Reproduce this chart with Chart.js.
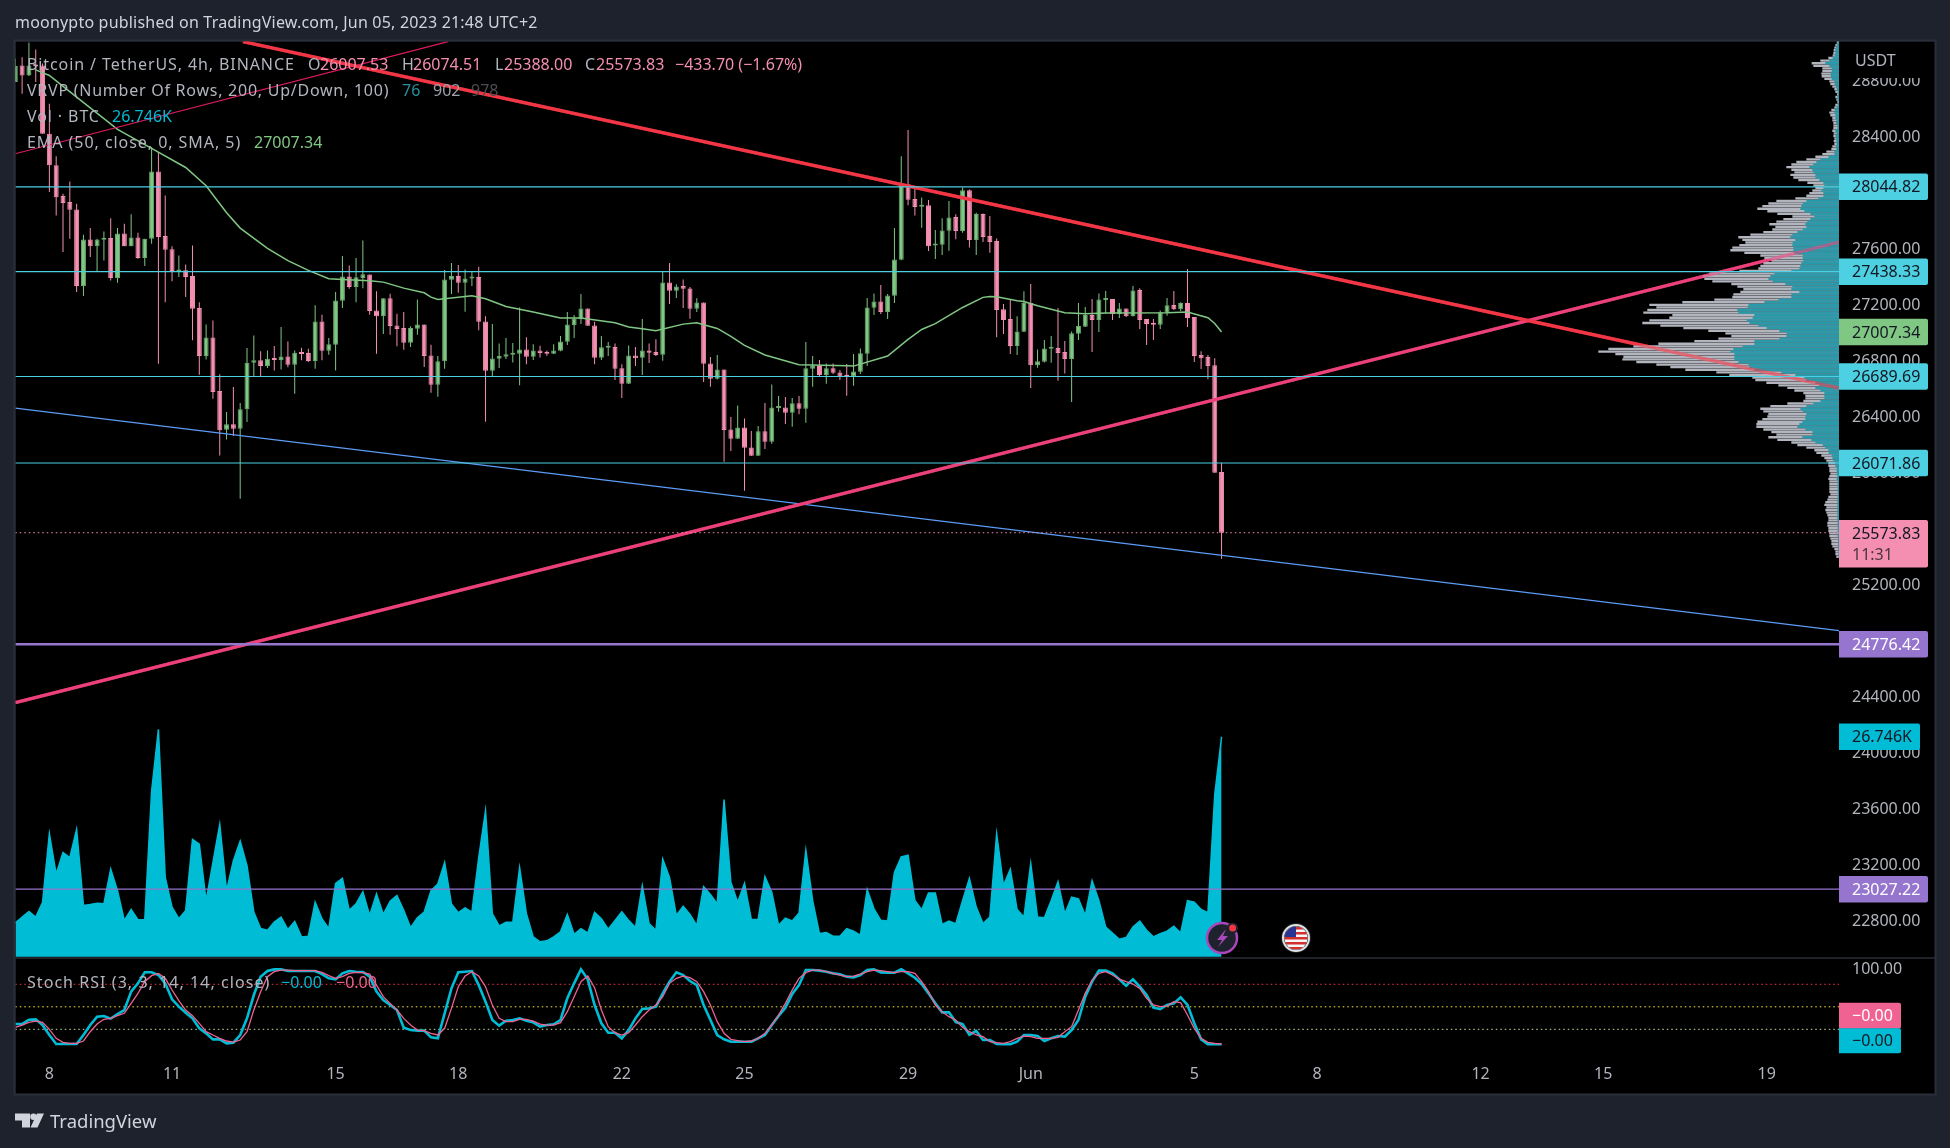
<!DOCTYPE html>
<html>
<head>
<meta charset="utf-8">
<title>BTCUSDT 4h</title>
<script src="https://cdn.jsdelivr.net/npm/chart.js@4/dist/chart.umd.min.js"></script>
<style>
  html, body { margin: 0; padding: 0; background: #1e222d; }
  #wrap { width: 1950px; height: 1148px; }
</style>
</head>
<body>
<div id="wrap"><canvas id="chart" width="1950" height="1148"></canvas></div>
<script>
const firstBar = -5;
const opens = [
  28793, 28912, 28840, 28917, 28912, 28424, 28198, 27979, 27936, 27883,
  27336, 27669, 27621, 27667, 27679, 27393, 27712, 27621, 27683, 27536,
  27674, 28155, 27693, 27598, 27440, 27448, 27407, 27179, 26836, 26969,
  26586, 26310, 26348, 26317, 26455, 26788, 26805, 26764, 26821, 26807,
  26833, 26774, 26864, 26857, 26800, 27083, 26874, 26917, 27231, 27405,
  27329, 27393, 27419, 27162, 27121, 27248, 27055, 27036, 26931, 27031,
  27062, 26840, 26631, 26798, 27381, 27407, 27359, 27390, 27400, 27083,
  26731, 26817, 26831, 26845, 26852, 26883, 26831, 26876, 26864, 26852,
  26874, 26938, 27057, 27098, 27176, 27055, 26824, 26895, 26900, 26748,
  26638, 26840, 26824, 26876, 26864, 26845, 27362, 27302, 27336, 27319,
  27174, 27219, 26783, 26674, 26740, 26312, 26245, 26326, 26183, 26124,
  26298, 26224, 26464, 26469, 26431, 26498, 26459, 26745, 26764, 26700,
  26748, 26719, 26698, 26690, 26724, 26852, 27181, 27226, 27150, 27267,
  27524, 28064, 27957, 27902, 27914, 27626, 27631, 27731, 27829, 27729,
  28021, 27664, 27850, 27693, 27657, 27171, 27100, 26907, 27010, 27214,
  26771, 26795, 26888, 26893, 26864, 26814, 26995, 27045, 27129, 27093,
  27236, 27243, 27136, 27176, 27121, 27307, 27100, 27071, 27059, 27145,
  27200, 27171, 27214, 27114, 26843, 26829, 26771, 26007.53
];
const closes = [
  28907, 28840, 28912, 28905, 28424, 28198, 27971, 27929, 27881, 27336,
  27669, 27621, 27669, 27674, 27393, 27712, 27621, 27683, 27536, 27674,
  28155, 27686, 27595, 27443, 27448, 27400, 27174, 26836, 26969, 26579,
  26305, 26348, 26317, 26455, 26788, 26805, 26764, 26817, 26807, 26833,
  26774, 26859, 26850, 26800, 27083, 26874, 26921, 27233, 27405, 27329,
  27398, 27421, 27157, 27121, 27248, 27050, 27029, 26931, 27036, 27062,
  26836, 26631, 26798, 27383, 27407, 27359, 27390, 27400, 27081, 26731,
  26819, 26836, 26848, 26857, 26883, 26831, 26876, 26857, 26852, 26876,
  26940, 27062, 27102, 27176, 27052, 26824, 26898, 26900, 26745, 26638,
  26840, 26821, 26876, 26859, 26843, 27362, 27302, 27333, 27317, 27174,
  27219, 26781, 26674, 26740, 26307, 26245, 26326, 26181, 26124, 26298,
  26224, 26469, 26471, 26431, 26498, 26459, 26748, 26764, 26700, 26748,
  26717, 26688, 26688, 26726, 26855, 27183, 27226, 27150, 27269, 27526,
  28064, 27952, 27900, 27912, 27621, 27636, 27733, 27826, 27729, 28021,
  27664, 27850, 27686, 27650, 27164, 27093, 26907, 27012, 27214, 26771,
  26798, 26890, 26893, 26857, 26814, 26998, 27050, 27129, 27093, 27240,
  27243, 27136, 27176, 27121, 27305, 27093, 27064, 27059, 27148, 27198,
  27171, 27214, 27107, 26836, 26821, 26764, 26002, 25573.83
];
const highs = [
  28960, 28971, 29075, 29026, 28925, 28638, 28264, 27995, 28083, 27924,
  27702, 27750, 27674, 27726, 27821, 27750, 27781, 27848, 27717, 27674,
  28329, 28293, 27983, 27621, 27555, 27490, 27626, 27221, 27062, 27090,
  26705, 26436, 26614, 26500, 26893, 26983, 26871, 26876, 26907, 27043,
  26940, 26876, 26895, 26888, 27198, 27131, 26964, 27293, 27550, 27483,
  27536, 27662, 27419, 27298, 27248, 27281, 27138, 27150, 27048, 27240,
  27062, 26917, 26836, 27450, 27500, 27486, 27455, 27443, 27474, 27121,
  27064, 26926, 26964, 26929, 27183, 26971, 26921, 26909, 26876, 26921,
  26979, 27150, 27129, 27279, 27176, 27081, 26979, 26936, 26926, 26778,
  26912, 26900, 27100, 26926, 26955, 27438, 27500, 27348, 27383, 27329,
  27248, 27219, 26829, 26843, 26740, 26400, 26483, 26390, 26300, 26336,
  26500, 26633, 26550, 26543, 26536, 26550, 26936, 26836, 26807, 26783,
  26783, 26736, 26779, 26850, 26890, 27250, 27283, 27343, 27279, 27750,
  28264, 28450, 28050, 27969, 27950, 27736, 27821, 27943, 27848, 28040,
  28026, 27860, 27855, 27836, 27676, 27207, 27236, 27121, 27298, 27350,
  26883, 26950, 26979, 27179, 26943, 27012, 27214, 27186, 27243, 27283,
  27300, 27243, 27214, 27176, 27336, 27321, 27100, 27100, 27162, 27250,
  27300, 27221, 27457, 27114, 26871, 26843, 26821, 26074.51
];
const lows = [
  28793, 28710, 28836, 28793, 28424, 28007, 27840, 27579, 27674, 27293,
  27264, 27543, 27440, 27519, 27376, 27359, 27621, 27621, 27531, 27479,
  27638, 26781, 27221, 27371, 27400, 27257, 26948, 26702, 26812, 26531,
  26126, 26240, 26264, 25817, 26364, 26693, 26693, 26750, 26733, 26740,
  26755, 26567, 26805, 26793, 26745, 26805, 26845, 26733, 27179, 27317,
  27221, 27321, 27131, 26852, 26993, 26988, 26905, 26881, 26900, 26988,
  26757, 26574, 26545, 26745, 27279, 27288, 27152, 27336, 27021, 26367,
  26688, 26750, 26814, 26790, 26628, 26778, 26807, 26826, 26838, 26850,
  26871, 26914, 26964, 27064, 27052, 26778, 26807, 26836, 26664, 26536,
  26636, 26764, 26700, 26786, 26836, 26802, 27207, 27250, 27179, 27102,
  27150, 26650, 26617, 26669, 26081, 26157, 26243, 25874, 26121, 26121,
  26171, 26210, 26438, 26350, 26331, 26421, 26359, 26617, 26688, 26638,
  26707, 26664, 26552, 26624, 26707, 26764, 27129, 27136, 27100, 27214,
  27521, 27914, 27840, 27752, 27586, 27529, 27557, 27588, 27671, 27717,
  27612, 27557, 27650, 27574, 26971, 26993, 26850, 26843, 27007, 26607,
  26752, 26790, 26788, 26659, 26712, 26507, 26950, 27043, 26864, 27007,
  27140, 27093, 27107, 27114, 27119, 27029, 26914, 26950, 27029, 27124,
  27164, 27157, 27043, 26793, 26743, 26671, 26002, 25388
];

const emaBars = [
  -2, 0, 4, 10, 15, 20, 23, 26, 28, 32, 35, 38, 41, 43, 47, 49, 52, 55, 56,
  57, 62, 64, 67, 71, 75, 78, 83, 85, 87, 89, 93, 95, 98, 100, 102, 105, 110, 117,
  118, 123, 126, 128, 130, 134, 137, 138, 139, 142, 143, 145, 149, 152, 155, 164, 167, 170, 171, 172
];
const emaValues = [
  28880, 28840, 28686, 28455, 28320, 28183, 28052, 27860, 27750, 27605, 27517, 27448, 27388, 27383, 27374, 27364, 27321, 27288, 27257,
  27240, 27267, 27245, 27190, 27150, 27107, 27107, 27074, 27043, 27031, 27017, 27064, 27074, 27033, 26976, 26912, 26843, 26774, 26767,
  26764, 26836, 26955, 27026, 27067, 27183, 27255, 27262, 27260, 27231, 27226, 27195, 27145, 27138, 27143, 27145, 27150, 27110, 27069, 27007.34
];

// thousands of BTC per bar
const volumes = [
  4.10, 4.82, 5.51, 4.82, 6.63, 14.95, 10.05, 12.66, 12.06, 15.48,
  6.23, 6.35, 6.51, 6.43, 10.65, 8.04, 4.42, 5.75, 4.50, 4.50,
  20.10, 27.66, 9.65, 6.03, 4.62, 5.63, 14.27, 13.67, 6.83, 11.46,
  16.08, 8.04, 11.66, 14.07, 11.06, 5.43, 3.42, 3.22, 4.22, 4.82,
  3.30, 4.30, 2.41, 2.49, 6.63, 4.62, 3.42, 8.92, 9.53, 5.63,
  6.43, 7.92, 5.03, 7.64, 5.15, 6.75, 7.44, 5.63, 3.54, 4.74,
  5.43, 8.04, 8.84, 11.46, 6.43, 5.35, 5.95, 5.43, 12.06, 17.77,
  5.23, 3.74, 4.18, 4.18, 10.85, 5.23, 2.41, 1.81, 1.93, 2.41,
  3.02, 5.15, 2.73, 3.42, 2.89, 5.39, 4.62, 3.34, 4.42, 5.47,
  4.42, 3.54, 8.64, 4.02, 3.22, 11.86, 9.65, 5.03, 6.15, 5.15,
  3.82, 8.52, 7.56, 6.43, 19.10, 9.05, 6.63, 8.92, 4.54, 4.54,
  9.73, 7.84, 3.82, 4.70, 4.34, 5.31, 12.94, 6.83, 2.81, 2.93,
  2.49, 2.49, 3.42, 3.10, 2.61, 8.16, 5.83, 4.42, 4.34, 10.25,
  12.14, 12.34, 6.83, 5.71, 7.76, 7.76, 3.94, 4.34, 4.02, 6.83,
  9.53, 6.03, 4.02, 4.82, 14.95, 8.64, 10.65, 5.75, 4.82, 11.34,
  4.82, 4.74, 6.83, 9.13, 5.23, 7.24, 7.04, 5.03, 9.25, 6.83,
  3.62, 2.89, 2.13, 2.33, 3.62, 4.34, 3.22, 2.41, 2.81, 3.10,
  3.70, 2.89, 6.83, 6.63, 5.75, 5.35, 19.70, 26.746
];

const stochK = [
  27, 27, 32.8, 33.3, 25.7, 12.4, 0.5, 0.5, 0.5, 0.5,
  12.4, 25.7, 36.8, 37.7, 34.2, 40.4, 45.7, 70.2, 81.3, 96,
  96, 92.4, 81.3, 59.9, 50.2, 42.2, 34.6, 21.3, 14.6, 6.6,
  6.6, 1.3, 2.2, 12.4, 34.6, 65.7, 90.2, 97.7, 99.9, 100,
  97.7, 97.7, 97.7, 97.7, 97.7, 93.7, 88, 86.6, 94.6, 97.7,
  96.8, 96.4, 90.2, 70.2, 59, 52.4, 45.7, 22.2, 19, 18.2,
  18.2, 9.3, 8, 41.3, 74.6, 96, 96.8, 97.7, 79, 56.8,
  32.4, 24.9, 31.5, 32.4, 34.6, 31.5, 29.3, 23.5, 25.7, 26.6,
  32.4, 61.3, 81.3, 100, 86.6, 52.4, 28, 15.5, 15.5, 8,
  19, 34.6, 47, 47.9, 50.2, 67.9, 83.5, 96, 92.4, 84.4,
  79, 52.4, 32.4, 12.4, 6.6, 3.5, 3.5, 3.5, 3.5, 8,
  12.4, 25.7, 37.7, 48.8, 67, 79, 99, 99, 98.2, 96.8,
  94.6, 93.3, 90.2, 89.3, 92.4, 99, 100, 95.9, 95.5, 95.5,
  100, 94.6, 88.8, 80.4, 67.9, 54.6, 42.6, 42.6, 29.7, 27,
  12.8, 17.7, 5.7, 5.7, 0.5, 0, 0, 3.5, 12.4, 12.4,
  11, 4.4, 8, 11, 10.2, 19, 32.4, 63.5, 83.5, 98.2,
  98.2, 94.6, 86.6, 78.2, 86.6, 76.8, 65.7, 48.8, 47, 52.4,
  54.6, 62.6, 52.4, 28, 6.6, 0, 0, 0
];
const stochD = [
  22.6, 25.7, 29.3, 31, 29.3, 20, 8, 2.6, 1.3, 1.3,
  4.4, 16.8, 27, 33.3, 34.6, 38.2, 41.3, 54.6, 67.9, 83.5,
  91.5, 94.6, 88, 72.4, 58.2, 45.7, 38.2, 28, 16.8, 12.4,
  8, 4.4, 3, 5.7, 16.8, 45.7, 70.2, 90.2, 96.8, 99,
  99, 98.2, 98.2, 98.2, 98.2, 96, 91.5, 88, 90.2, 94.6,
  96, 95.5, 93.7, 79, 63.5, 54.6, 45.7, 34.6, 25.7, 19,
  18.2, 14.6, 12.4, 21.3, 47.9, 76.8, 91, 96.8, 91, 76.8,
  52.4, 34.6, 30.2, 30.2, 33.3, 33.3, 31, 27, 25.7, 25.7,
  28.8, 43.5, 63.5, 83.5, 91, 75.5, 45.7, 23.5, 15.5, 12.4,
  15.5, 25.7, 36.8, 45.7, 52.4, 63.5, 81.3, 88, 91, 88.8,
  83.5, 70.2, 52.4, 30.2, 14.6, 6.6, 4.9, 3.5, 4.4, 8,
  14.6, 25.7, 39, 54.6, 72.4, 88, 95.5, 99, 99, 96.8,
  94.6, 92.4, 90.2, 91, 93.7, 96.8, 99, 98.2, 96.8, 95.5,
  96.8, 96.8, 94.6, 83.5, 70.2, 52.4, 43.5, 36.8, 32.4, 22.6,
  16.8, 12.4, 10.2, 3.5, 2.2, 1.3, 3.5, 8, 11, 10.2,
  8, 8, 8, 9.3, 16.8, 23.5, 45.7, 67.9, 85.7, 94.6,
  96.8, 92.4, 87, 83.5, 80.4, 74.6, 61.3, 52.4, 50.2, 51,
  56.8, 55.5, 39, 21.3, 8, 2.6, 1.3, 0.4
];

// visible range volume profile, top row first
const vpTopPrice = 29076;
const vpLowPrice = 25402;
const vpTotal = [
  6, 10, 13, 15, 16, 18, 31, 55, 81, 76, 49, 49, 52, 51, 43, 28, 25, 19, 13, 10,
  5, 10, 7, 4, 10, 13, 22, 28, 25, 19, 19, 16, 16, 16, 19, 15, 16, 13, 15, 13,
  19, 22, 37, 49, 70, 97, 127, 142, 157, 142, 133, 145, 136, 121, 94, 76, 70, 79, 88, 97,
  130, 187, 211, 229, 244, 214, 184, 139, 166, 187, 208, 190, 199, 226, 265, 301, 289, 280, 298, 319,
  325, 283, 235, 223, 202, 226, 235, 241, 298, 388, 408, 403, 379, 322, 304, 286, 295, 316, 319, 373,
  469, 568, 547, 574, 586, 499, 508, 568, 589, 535, 466, 391, 340, 322, 361, 433, 541, 616, 691, 721,
  670, 646, 649, 607, 547, 505, 460, 367, 328, 259, 250, 217, 181, 154, 133, 106, 100, 100, 106, 154,
  205, 235, 226, 211, 214, 229, 244, 247, 247, 226, 202, 187, 211, 184, 142, 124, 97, 73, 67, 52,
  43, 37, 31, 31, 28, 28, 25, 28, 31, 28, 28, 28, 28, 28, 25, 31, 34, 40, 43, 37,
  40, 37, 34, 31, 31, 34, 34, 31, 31, 28, 28, 25, 22, 22, 19, 13, 10, 10, 7
];
const vpUp = [
  3, 6, 8, 10, 10, 12, 18, 28, 40, 28, 21, 21, 24, 24, 21, 13, 12, 8, 6, 3,
  2, 4, 3, 1, 3, 6, 12, 13, 10, 10, 7, 8, 4, 4, 10, 7, 9, 8, 7, 6,
  8, 7, 13, 13, 31, 55, 67, 76, 88, 79, 76, 70, 70, 58, 46, 43, 46, 52, 46, 46,
  61, 97, 108, 112, 115, 103, 85, 73, 85, 94, 100, 97, 108, 124, 139, 145, 130, 138, 139, 136,
  136, 133, 108, 108, 106, 112, 115, 118, 142, 193, 205, 211, 198, 160, 139, 142, 118, 142, 142, 181,
  223, 271, 273, 304, 301, 253, 258, 276, 268, 241, 216, 178, 156, 157, 178, 253, 253, 288, 316, 325,
  313, 313, 313, 301, 271, 268, 253, 172, 130, 103, 98, 70, 58, 70, 55, 43, 43, 43, 55, 76,
  97, 115, 108, 97, 100, 100, 109, 118, 124, 100, 79, 79, 109, 82, 70, 48, 40, 31, 30, 21,
  19, 16, 11, 10, 6, 6, 6, 4, 6, 3, 3, 3, 3, 3, 2, 3, 4, 4, 4, 4,
  4, 4, 4, 4, 4, 3, 3, 3, 3, 3, 3, 2, 2, 2, 2, 2, 1, 1, 1
];

const priceTicks = [28800, 28400, 28000, 27600, 27200, 26800, 26400, 26000, 25600, 25200, 24800, 24400, 24000, 23600, 23200, 22800];
const dateTickBars = [0, 18, 42, 60, 84, 102, 126, 144, 168, 186, 210, 228, 252];
const dateTickLabels = ['8', '11', '15', '18', '22', '25', '29', 'Jun', '5', '8', '12', '15', '19'];

const cyanLevels = [28044.82, 27438.33, 26689.69, 26071.86];
const purpleLevels = [24776.42, 23027.22];
const lastPrice = 25573.83;
const lastEma = 27007.34;
const lastVolume = 26.746;

const redTrendBars = [28.4, 262.6];
const redTrendPrices = [29082, 26607];
const pinkTrendBars = [-5, 262.6];
const pinkTrendPrices = [24360, 27650];
const thinTrendBars = [-5, 58.5];
const thinTrendPrices = [28281, 29082];
const blueTrendBars = [-5, 262.6];
const blueTrendPrices = [26464, 24874];

const colors = {
  frame: '#1e222d',
  border: '#2a2e39',
  text: '#b2b5be',
  header: '#d1d4dc',
  up: '#81c784',
  upEdge: '#6aa96e',
  down: '#f48fb1',
  cyan: '#4dd0e1',
  purple: '#9575cd',
  volume: '#00bcd4',
  stochD: '#f06292',
  red: '#f23645',
  redThrough: 'rgba(242, 54, 69, 0.55)',
  pink: '#ec407a',
  pinkThrough: 'rgba(236, 64, 122, 0.55)',
  blue: '#5b9cf6',
  vpUp: '#2a9aab',
  vpDown: '#b2b5be'
};
const fontName = '"Noto Sans", sans-serif';

const barIndex = closes.map((_, k) => firstBar + k);
const xy = (xs, ys) => xs.map((x, k) => ({ x, y: ys[k] }));
const hLine = (value) => [{ x: firstBar, y: value }, { x: 262.6, y: value }];
const candleColor = (up, down) => closes.map((c, k) => (c >= opens[k] ? up : down));
const vpStep = (vpTopPrice - vpLowPrice) / (vpTotal.length - 1);
const vpRows = vpTotal.map((_, k) => vpTopPrice - k * vpStep);

function lineSet(data, color, width, order, extra = {}) {
  return {
    type: 'line',
    data,
    borderColor: color,
    borderWidth: width,
    pointRadius: 0,
    tension: 0,
    fill: false,
    order,
    xAxisID: 'x',
    yAxisID: 'y',
    ...extra
  };
}

function runs(ctx, y, parts) {
  parts.forEach(([x, text, color, spacing]) => {
    ctx.letterSpacing = (spacing || 0) + 'px';
    ctx.fillStyle = color;
    ctx.fillText(text, x, y);
  });
  ctx.letterSpacing = '0px';
}

function badge(ctx, y, h, right, bg, fg, text) {
  ctx.fillStyle = bg;
  ctx.beginPath();
  ctx.roundRect(1839, y - h / 2, right - 1839, h, [0, 2, 2, 0]);
  ctx.fill();
  ctx.fillStyle = fg;
  ctx.fillText(text, 1852, y + 1);
}

function drawLogo(ctx) {
  ctx.fillStyle = '#d1d4dc';
  ctx.beginPath();
  ctx.moveTo(15, 1113.5);
  ctx.lineTo(30, 1113.5);
  ctx.lineTo(30, 1127.5);
  ctx.lineTo(22, 1127.5);
  ctx.lineTo(22, 1120.5);
  ctx.lineTo(15, 1120.5);
  ctx.closePath();
  ctx.moveTo(44, 1113.5);
  ctx.lineTo(37.5, 1127.5);
  ctx.lineTo(30.5, 1127.5);
  ctx.lineTo(37, 1113.5);
  ctx.closePath();
  ctx.fill();
  ctx.beginPath();
  ctx.arc(33.5, 1116.8, 3.3, 0, Math.PI * 2);
  ctx.fill();
  ctx.font = '18.5px ' + fontName;
  ctx.textAlign = 'left';
  ctx.textBaseline = 'middle';
  ctx.fillText('TradingView', 50, 1122.5);
}

function drawEvents(ctx) {
  // earnings style bolt marker
  ctx.beginPath();
  ctx.arc(1222, 938, 15, 0, Math.PI * 2);
  ctx.fillStyle = '#1e222d';
  ctx.fill();
  ctx.lineWidth = 2.5;
  ctx.strokeStyle = '#ab47bc';
  ctx.stroke();
  ctx.fillStyle = '#ab47bc';
  ctx.beginPath();
  ctx.moveTo(1226, 929);
  ctx.lineTo(1217, 940);
  ctx.lineTo(1222, 940);
  ctx.lineTo(1218, 947);
  ctx.lineTo(1228, 936);
  ctx.lineTo(1223, 936);
  ctx.closePath();
  ctx.fill();
  ctx.fillStyle = '#1e222d';
  ctx.beginPath();
  ctx.arc(1232.6, 928, 5.5, 0, Math.PI * 2);
  ctx.fill();
  ctx.fillStyle = '#f23645';
  ctx.beginPath();
  ctx.arc(1232.6, 928, 3.5, 0, Math.PI * 2);
  ctx.fill();

  // US economic event flag
  ctx.save();
  ctx.beginPath();
  ctx.arc(1296, 938, 15, 0, Math.PI * 2);
  ctx.fillStyle = '#1e222d';
  ctx.fill();
  ctx.beginPath();
  ctx.arc(1296, 938, 11.5, 0, Math.PI * 2);
  ctx.clip();
  ctx.fillStyle = '#f5f5f5';
  ctx.fillRect(1284, 926, 24, 24);
  ctx.fillStyle = '#d32f2f';
  for (let s = 0; s < 5; s++) {
    ctx.fillRect(1284, 927 + s * 5, 24, 2.5);
  }
  ctx.fillStyle = '#283593';
  ctx.fillRect(1284, 926, 12, 11);
  ctx.restore();
  ctx.beginPath();
  ctx.arc(1296, 938, 13, 0, Math.PI * 2);
  ctx.lineWidth = 2;
  ctx.strokeStyle = '#e0e0e0';
  ctx.stroke();
}

const paneFrame = {
  id: 'paneFrame',
  beforeDraw(chart) {
    const ctx = chart.ctx;
    ctx.save();
    ctx.fillStyle = colors.frame;
    ctx.fillRect(0, 0, 1950, 1148);
    ctx.fillStyle = '#000000';
    ctx.fillRect(15.5, 41.5, 1919.5, 1052.5);
    ctx.strokeStyle = colors.border;
    ctx.lineWidth = 2;
    ctx.strokeRect(14.5, 40.5, 1921, 1054);
    ctx.restore();
  },
  afterDraw(chart) {
    const ctx = chart.ctx;
    const y = chart.scales.y;
    const yVol = chart.scales.yVol;
    const yStoch = chart.scales.yStoch;
    ctx.save();
    ctx.textAlign = 'left';
    ctx.textBaseline = 'middle';
    ctx.font = '16px ' + fontName;

    // pane separator
    ctx.strokeStyle = colors.border;
    ctx.lineWidth = 1.5;
    ctx.beginPath();
    ctx.moveTo(15.5, 958);
    ctx.lineTo(1935, 958);
    ctx.stroke();

    // currency tag over the top tick
    ctx.fillStyle = '#000000';
    ctx.fillRect(1840, 42, 94, 36);
    ctx.fillStyle = colors.text;
    ctx.fillText('USDT', 1855, 61);
    ctx.fillText('100.00', 1852, yStoch.getPixelForValue(100));

    // header and footer
    runs(ctx, 23.5, [[15, 'moonypto published on TradingView.com, Jun 05, 2023 21:48 UTC+2', colors.header, 0.2]]);
    drawLogo(ctx);
    ctx.font = '16px ' + fontName;

    // legend rows
    const grey = colors.text;
    runs(ctx, 65, [
      [27, 'Bitcoin / TetherUS, 4h, BINANCE', grey, 0.9],
      [308, 'O', grey], [320, '26007.53', colors.down],
      [402, 'H', grey], [413, '26074.51', colors.down],
      [495, 'L', grey], [504, '25388.00', colors.down],
      [585, 'C', grey], [596, '25573.83', colors.down],
      [675, '−433.70 (−1.67%)', colors.down]
    ]);
    runs(ctx, 91, [
      [27, 'VRVP (Number Of Rows, 200, Up/Down, 100)', grey, 0.75],
      [402, '76', '#2a8f9e'], [433, '902', '#9ea1aa'], [471, '978', '#4a4c52']
    ]);
    runs(ctx, 117, [[27, 'Vol · BTC', grey, 0.9], [112, '26.746K', colors.volume]]);
    runs(ctx, 143, [[27, 'EMA (50, close, 0, SMA, 5)', grey, 0.95], [254, '27007.34', colors.up]]);
    runs(ctx, 983, [
      [27, 'Stoch RSI (3, 3, 14, 14, close)', grey, 1.05],
      [281, '−0.00', colors.volume], [336, '−0.00', colors.stochD]
    ]);

    drawEvents(ctx);

    // price scale tags
    cyanLevels.forEach((v) => badge(ctx, y.getPixelForValue(v), 26.5, 1928, colors.cyan, '#131722', v.toFixed(2)));
    badge(ctx, y.getPixelForValue(lastEma), 26.5, 1928, colors.up, '#131722', lastEma.toFixed(2));
    purpleLevels.forEach((v) => badge(ctx, y.getPixelForValue(v), 26.5, 1928, colors.purple, '#ffffff', v.toFixed(2)));

    ctx.fillStyle = colors.down;
    ctx.beginPath();
    ctx.roundRect(1839, 520, 89, 47.5, [0, 2, 2, 0]);
    ctx.fill();
    ctx.fillStyle = '#131722';
    ctx.fillText(lastPrice.toFixed(2), 1852, 534);
    ctx.fillStyle = '#4a3640';
    ctx.fillText('11:31', 1852, 555.5);

    badge(ctx, yVol.getPixelForValue(lastVolume), 26.5, 1920, colors.volume, '#131722', lastVolume.toFixed(3) + 'K');
    badge(ctx, 1015.7, 26, 1901, colors.stochD, '#ffffff', '−0.00');
    badge(ctx, 1040.7, 25, 1901, colors.volume, '#131722', '−0.00');
    ctx.restore();
  }
};

new Chart(document.getElementById('chart'), {
  type: 'bar',
  data: {
    datasets: [
      lineSet(cyanLevels.flatMap((v) => [...hLine(v), { x: firstBar, y: null }]), colors.cyan, 1.2, 1, { spanGaps: false }),
      lineSet(hLine(purpleLevels[0]), colors.purple, 2.5, 1),
      lineSet(hLine(purpleLevels[1]), colors.purple, 1.2, 1),
      lineSet(hLine(lastPrice), colors.down, 1, 1, { borderDash: [1.5, 3] }),
      // the trend lines show faintly through the profile rows
      lineSet(xy(redTrendBars, redTrendPrices), colors.redThrough, 3.4, 1.5),
      lineSet(xy(pinkTrendBars, pinkTrendPrices), colors.pinkThrough, 3.4, 1.5),
      {
        type: 'bar',
        indexAxis: 'y',
        data: xy(vpUp, vpRows),
        backgroundColor: colors.vpUp,
        barThickness: 1.7,
        order: 2,
        xAxisID: 'xVP',
        yAxisID: 'y'
      },
      {
        type: 'bar',
        indexAxis: 'y',
        data: xy(vpTotal, vpRows),
        backgroundColor: colors.vpDown,
        barThickness: 1.7,
        order: 3,
        xAxisID: 'xVP',
        yAxisID: 'y'
      },
      lineSet(xy(redTrendBars, redTrendPrices), colors.red, 3.4, 4),
      lineSet(xy(pinkTrendBars, pinkTrendPrices), colors.pink, 3.4, 4),
      lineSet(xy(thinTrendBars, thinTrendPrices), '#d81b60', 1.2, 4),
      lineSet(xy(blueTrendBars, blueTrendPrices), colors.blue, 1.3, 4),
      lineSet(xy(emaBars, emaValues), colors.up, 1.5, 5),
      {
        type: 'bar',
        data: barIndex.map((x, k) => ({ x, y: [opens[k], closes[k]] })),
        backgroundColor: candleColor(colors.up, colors.down),
        borderColor: candleColor(colors.upEdge, colors.down),
        borderWidth: 1,
        borderSkipped: false,
        inflateAmount: 0,
        minBarLength: 2,
        barThickness: 5,
        order: 6,
        xAxisID: 'x',
        yAxisID: 'y'
      },
      {
        type: 'bar',
        data: barIndex.map((x, k) => ({ x, y: [lows[k], highs[k]] })),
        backgroundColor: candleColor(colors.up, colors.down),
        borderWidth: 0,
        inflateAmount: 0,
        barThickness: 1,
        order: 7,
        xAxisID: 'x',
        yAxisID: 'y'
      },
      lineSet(xy(barIndex, stochD), colors.stochD, 1.3, 8, { yAxisID: 'yStoch' }),
      lineSet(xy(barIndex, stochK), colors.volume, 2.6, 9, { yAxisID: 'yStoch' }),
      lineSet(hLine(80), '#f23645', 1, 10, { yAxisID: 'yStoch', borderDash: [1.5, 3] }),
      lineSet(hLine(50), '#ffeb3b', 1, 10, { yAxisID: 'yStoch', borderDash: [1.5, 3] }),
      lineSet(hLine(20), '#c5e1a5', 1, 10, { yAxisID: 'yStoch', borderDash: [1.5, 3] }),
      lineSet(xy(barIndex, volumes), colors.volume, 1.5, 11, {
        yAxisID: 'yVol',
        fill: { target: { value: 0 }, above: colors.volume, below: colors.volume }
      })
    ]
  },
  options: {
    responsive: false,
    animation: false,
    events: [],
    layout: { autoPadding: false, padding: { left: 15.5, top: 41.5, right: 15, bottom: 54 } },
    datasets: { bar: { grouped: false } },
    plugins: {
      legend: { display: false },
      tooltip: { enabled: false },
      title: { display: false }
    },
    scales: {
      x: {
        type: 'linear',
        axis: 'x',
        position: 'bottom',
        offset: false,
        min: -4.97,
        max: 262.6,
        grid: { display: false, drawTicks: false },
        border: { display: false },
        afterBuildTicks(axis) {
          axis.ticks = dateTickBars.map((value) => ({ value }));
        },
        afterFit(axis) {
          axis.height = 38;
        },
        ticks: {
          color: colors.text,
          font: { size: 16, family: fontName },
          padding: 9,
          autoSkip: false,
          maxRotation: 0,
          callback: (value) => dateTickLabels[dateTickBars.indexOf(value)]
        }
      },
      xVP: {
        type: 'linear',
        axis: 'x',
        display: false,
        reverse: true,
        offset: false,
        min: 0,
        max: 5470,
        grid: { display: false }
      },
      y: {
        type: 'linear',
        axis: 'y',
        position: 'right',
        // the profile bars use this as their index axis, which would turn offset on
        offset: false,
        min: 21835.7,
        max: 29082.9,
        grid: { display: false, drawTicks: false },
        border: { display: false },
        afterBuildTicks(axis) {
          axis.ticks = priceTicks.map((value) => ({ value }));
        },
        afterFit(axis) {
          axis.width = 96;
        },
        ticks: {
          color: colors.text,
          font: { size: 16, family: fontName },
          padding: 13,
          crossAlign: 'near',
          autoSkip: false,
          callback: (value) => value.toFixed(2)
        }
      },
      yVol: {
        type: 'linear',
        axis: 'y',
        display: false,
        min: -12.07,
        max: 111.27,
        grid: { display: false }
      },
      yStoch: {
        type: 'linear',
        axis: 'y',
        display: false,
        min: -15.6,
        max: 1337.2,
        grid: { display: false }
      }
    }
  },
  plugins: [paneFrame]
});
</script>
</body>
</html>
